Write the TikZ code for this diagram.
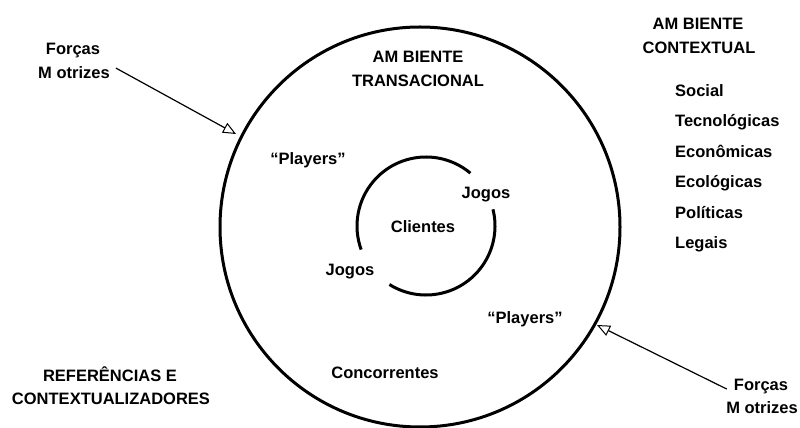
\documentclass[tikz,border=0pt]{standalone}
\usepackage{fontspec}
\setmainfont{Liberation Sans}
\usetikzlibrary{arrows.meta,calc}

\begin{document}
\begin{tikzpicture}[x=1pt,y=1pt,
    lbl/.style={anchor=base,inner sep=3pt,font=\fontsize{16.5}{20}\selectfont\bfseries},
    lblw/.style={lbl,anchor=base west},
    ring/.style={line width=3pt},
    force/.style={line width=1.2pt,-{Triangle[open,length=13pt,width=11pt,line width=1pt]}}]

  % canvas
  \path[use as bounding box] (0,0) rectangle (800,428);

  % transactional environment (outer ring) and client core
  \coordinate (oc) at (420,201);
  \coordinate (ic) at (426,202);
  \draw[ring] (oc) circle[radius=200];
  \draw[ring] ([shift={(50:69)}]ic) arc[start angle=50,end angle=200,radius=69];
  \draw[ring] ([shift={(-122:69)}]ic) arc[start angle=-122,end angle=14,radius=69];

  % labels inside the ring
  \node[lbl] (at1) at (418,365) {AM BIENTE};
  \node[lbl] (at2) at (418,341) {TRANSACIONAL};
  \node[lbl] (pl1) at (308,263) {“Players”};
  \node[lbl] (pl2) at (525,104) {“Players”};
  \node[lbl] (jg1) at (486,229) {Jogos};
  \node[lbl] (jg2) at (350,152) {Jogos};
  \node[lbl] (cli) at (423,195) {Clientes};
  \node[lbl] (con) at (385,49) {Concorrentes};

  % contextual environment
  \node[lbl] (ac1) at (698,398) {AM BIENTE};
  \node[lbl] (ac2) at (699,374) {CONTEXTUAL};
  \node[lblw] (c1) at (672,331) {Social};
  \node[lblw] (c2) at (672,301) {Tecnológicas};
  \node[lblw] (c3) at (672,270) {Econômicas};
  \node[lblw] (c4) at (672,240) {Ecológicas};
  \node[lblw] (c5) at (672,209) {Políticas};
  \node[lblw] (c6) at (672,179) {Legais};

  % references
  \node[lbl] (rf1) at (110,46) {REFERÊNCIAS E};
  \node[lbl] (rf2) at (111,23) {CONTEXTUALIZADORES};

  % driving forces
  \node[lbl] (f1) at (73,373) {Forças};
  \node[lbl] (m1) at (74,349) {M otrizes};
  \node[lbl] (f2) at (761,37) {Forças};
  \node[lbl] (m2) at (762,14) {M otrizes};

  \coordinate (t1) at (236,294);
  \coordinate (t2) at (597,103);
  \draw[force] ($(m1.east)+(3,5)$) -- (t1);
  \draw[force] ($(f2.west)+(-4,-2)$) -- (t2);
\end{tikzpicture}
\end{document}
